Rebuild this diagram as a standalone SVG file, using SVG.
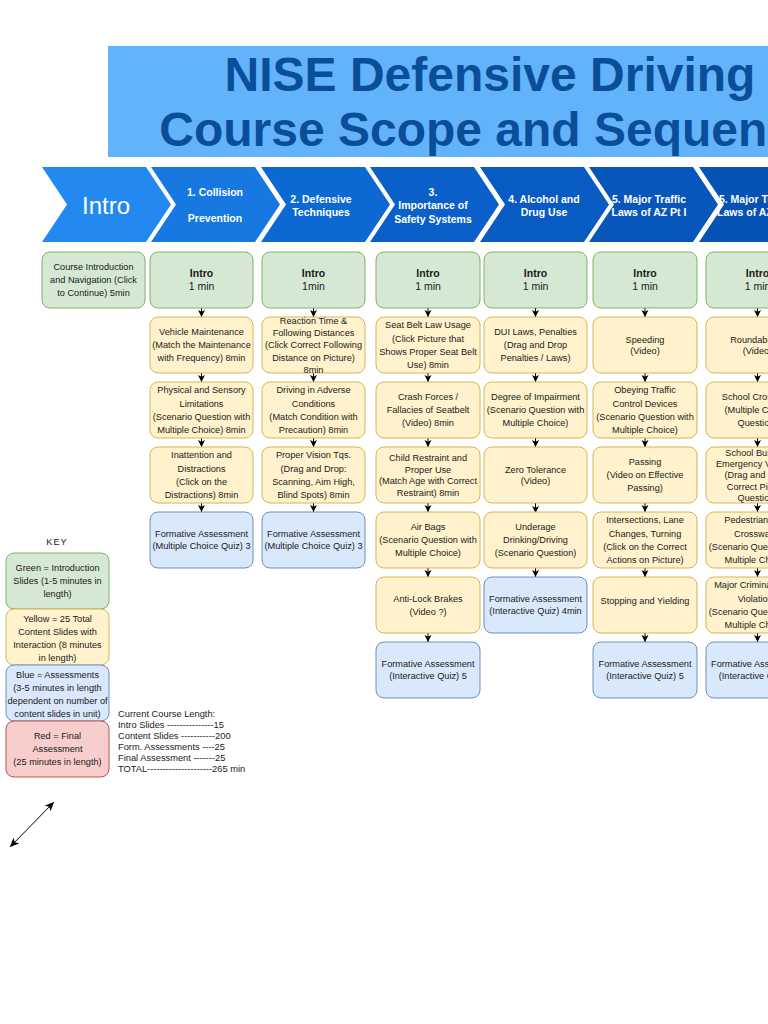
<svg xmlns="http://www.w3.org/2000/svg" width="768" height="1024" viewBox="0 0 768 1024">
<defs>
<style>
text{font-family:"Liberation Sans",Arial,Helvetica,sans-serif}
.t{font-size:9.2px;fill:#1a1a1a;text-anchor:middle}
.tb{font-weight:bold}
.i{font-size:10.5px}
.ch{font-size:10.5px;font-weight:bold;fill:#fff;text-anchor:middle}
.g{fill:#d5e8d4;stroke:#82b366;stroke-width:1}
.y{fill:#fff2cc;stroke:#d6b656;stroke-width:1}
.b{fill:#dae8fc;stroke:#6c8ebf;stroke-width:1}
.r{fill:#f8cecc;stroke:#b85450;stroke-width:1}
.c{stroke:#000;stroke-width:1;fill:none;marker-end:url(#ah)}
.cl{font-size:9.3px;fill:#1a1a1a}
</style>
<marker id="ah" markerUnits="userSpaceOnUse" markerWidth="8" markerHeight="8" refX="7" refY="3.5" orient="auto">
<path d="M0,0 L7,3.5 L0,7 L1.8,3.5 Z" fill="#000"/>
</marker>
<marker id="ah2" markerUnits="userSpaceOnUse" markerWidth="10" markerHeight="10" refX="9" refY="4" orient="auto-start-reverse">
<path d="M0,0 L9,4 L0,8 L2.2,4 Z" fill="#000"/>
</marker>
</defs>
<rect width="768" height="1024" fill="#fff"/>

<g id="title">
<rect x="108" y="46" width="680" height="111" fill="#63b3fb"/>
<text x="490" y="91" font-size="48" font-weight="bold" fill="#0a4e99" text-anchor="middle">NISE Defensive Driving</text>
<text x="490" y="146" font-size="48" font-weight="bold" fill="#0a4e99" text-anchor="middle">Course Scope and Sequence</text>
</g>

<g id="chevrons">
<g id="ch-intro"><polygon points="42,167 146,167 171,204.5 146,242 42,242 67,204.5" fill="#2389f0"/><text x="106" y="214" font-size="24" fill="#fff" text-anchor="middle">Intro</text></g>
<g id="ch-1"><polygon points="151,167 255,167 280,204.5 255,242 151,242 176,204.5" fill="#1778e2"/><text class="ch" x="215" y="196">1. Collision</text><text class="ch" x="215" y="222">Prevention</text></g>
<g id="ch-2"><polygon points="261,167 365,167 390,204.5 365,242 261,242 286,204.5" fill="#0c69d3"/><text class="ch" x="321" y="203">2. Defensive</text><text class="ch" x="321" y="216">Techniques</text></g>
<g id="ch-3"><polygon points="370,167 474,167 499,204.5 474,242 370,242 395,204.5" fill="#0a60c8"/><text class="ch" x="433" y="196">3.</text><text class="ch" x="433" y="209">Importance of</text><text class="ch" x="433" y="223">Safety Systems</text></g>
<g id="ch-4"><polygon points="480,167 584,167 609,204.5 584,242 480,242 505,204.5" fill="#085bc2"/><text class="ch" x="544" y="203">4. Alcohol and</text><text class="ch" x="544" y="216">Drug Use</text></g>
<g id="ch-5"><polygon points="589,167 693,167 718,204.5 693,242 589,242 614,204.5" fill="#0756bb"/><text class="ch" x="649" y="203">5. Major Traffic</text><text class="ch" x="649" y="216">Laws of AZ Pt I</text></g>
<g id="ch-6"><polygon points="699,167 803,167 828,204.5 803,242 699,242 724,204.5" fill="#0652b5"/><text class="ch" x="756" y="203">5. Major Traffic</text><text class="ch" x="756" y="216">Laws of AZ Pt II</text></g>
</g>

<g id="connectors">
<line class="c" x1="201.5" y1="308" x2="201.5" y2="317"/>
<line class="c" x1="201.5" y1="373" x2="201.5" y2="382"/>
<line class="c" x1="201.5" y1="438" x2="201.5" y2="447"/>
<line class="c" x1="201.5" y1="503" x2="201.5" y2="512"/>
<line class="c" x1="313.5" y1="308" x2="313.5" y2="317"/>
<line class="c" x1="313.5" y1="373" x2="313.5" y2="382"/>
<line class="c" x1="313.5" y1="438" x2="313.5" y2="447"/>
<line class="c" x1="313.5" y1="503" x2="313.5" y2="512"/>
<line class="c" x1="428" y1="308" x2="428" y2="317"/>
<line class="c" x1="428" y1="373" x2="428" y2="382"/>
<line class="c" x1="428" y1="438" x2="428" y2="447"/>
<line class="c" x1="428" y1="503" x2="428" y2="512"/>
<line class="c" x1="428" y1="568" x2="428" y2="577"/>
<line class="c" x1="428" y1="633" x2="428" y2="642"/>
<line class="c" x1="535.5" y1="308" x2="535.5" y2="317"/>
<line class="c" x1="535.5" y1="373" x2="535.5" y2="382"/>
<line class="c" x1="535.5" y1="438" x2="535.5" y2="447"/>
<line class="c" x1="535.5" y1="488" x2="535.5" y2="513"/>
<line x1="535.5" y1="512" x2="535.5" y2="522" stroke="#000" stroke-width="1"/>
<line class="c" x1="535.5" y1="568" x2="535.5" y2="577"/>
<line class="c" x1="645" y1="308" x2="645" y2="317"/>
<line class="c" x1="645" y1="373" x2="645" y2="382"/>
<line class="c" x1="645" y1="438" x2="645" y2="447"/>
<line class="c" x1="645" y1="503" x2="645" y2="512"/>
<line class="c" x1="645" y1="568" x2="645" y2="577"/>
<line class="c" x1="645" y1="633" x2="645" y2="642"/>
<line class="c" x1="757.5" y1="308" x2="757.5" y2="317"/>
<line class="c" x1="757.5" y1="373" x2="757.5" y2="382"/>
<line class="c" x1="757.5" y1="438" x2="757.5" y2="447"/>
<line class="c" x1="757.5" y1="503" x2="757.5" y2="512"/>
<line class="c" x1="757.5" y1="568" x2="757.5" y2="577"/>
<line class="c" x1="757.5" y1="633" x2="757.5" y2="642"/>
<line x1="10" y1="847" x2="54" y2="802" stroke="#000" stroke-width="1" marker-start="url(#ah2)" marker-end="url(#ah2)"/>
</g>

<g id="c0-course-intro"><rect class="g" x="42" y="252" width="103" height="56" rx="8"/><text class="t" x="93.5" y="270">Course Introduction</text><text class="t" x="93.5" y="283">and Navigation (Click</text><text class="t" x="93.5" y="296">to Continue) 5min</text></g>

<!-- column 1 -->
<g id="c1-intro"><rect class="g" x="150" y="252" width="103" height="56" rx="8"/><text class="t tb i" x="201.5" y="276.5">Intro</text><text class="t i" x="201.5" y="289.5">1 min</text></g>
<g id="c1-vm"><rect class="y" x="150" y="317" width="103" height="56" rx="8"/><text class="t" x="201.5" y="335.4">Vehicle Maintenance</text><text class="t" x="201.5" y="348.4">(Match the Maintenance</text><text class="t" x="201.5" y="361.4">with Frequency) 8min</text></g>
<g id="c1-ps"><rect class="y" x="150" y="382" width="103" height="56" rx="8"/><text class="t" x="201.5" y="393.4">Physical and Sensory</text><text class="t" x="201.5" y="406.7">Limitations</text><text class="t" x="201.5" y="420">(Scenario Question with</text><text class="t" x="201.5" y="433.3">Multiple Choice) 8min</text></g>
<g id="c1-in"><rect class="y" x="150" y="447" width="103" height="56" rx="8"/><text class="t" x="201.5" y="458.4">Inattention and</text><text class="t" x="201.5" y="471.7">Distractions</text><text class="t" x="201.5" y="485">(Click on the</text><text class="t" x="201.5" y="498.3">Distractions) 8min</text></g>
<g id="c1-fa"><rect class="b" x="150" y="512" width="103" height="56" rx="8"/><text class="t" x="201.5" y="537.4">Formative Assessment</text><text class="t" x="201.5" y="549.4">(Multiple Choice Quiz) 3</text></g>

<!-- column 2 -->
<g id="c2-intro"><rect class="g" x="262" y="252" width="103" height="56" rx="8"/><text class="t tb i" x="313.5" y="276.5">Intro</text><text class="t i" x="313.5" y="289.5">1min</text></g>
<g id="c2-rt"><rect class="y" x="262" y="317" width="103" height="56" rx="8"/><text class="t" x="313.5" y="324">Reaction Time &amp;</text><text class="t" x="313.5" y="336.2">Following Distances</text><text class="t" x="313.5" y="348.4">(Click Correct Following</text><text class="t" x="313.5" y="360.6">Distance on Picture)</text><text class="t" x="313.5" y="372.8">8min</text></g>
<g id="c2-da"><rect class="y" x="262" y="382" width="103" height="56" rx="8"/><text class="t" x="313.5" y="393.4">Driving in Adverse</text><text class="t" x="313.5" y="406.7">Conditions</text><text class="t" x="313.5" y="420">(Match Condition with</text><text class="t" x="313.5" y="433.3">Precaution) 8min</text></g>
<g id="c2-pv"><rect class="y" x="262" y="447" width="103" height="56" rx="8"/><text class="t" x="313.5" y="458.4">Proper Vision Tqs.</text><text class="t" x="313.5" y="471.7">(Drag and Drop:</text><text class="t" x="313.5" y="485">Scanning, Aim High,</text><text class="t" x="313.5" y="498.3">Blind Spots) 8min</text></g>
<g id="c2-fa"><rect class="b" x="262" y="512" width="103" height="56" rx="8"/><text class="t" x="313.5" y="537.4">Formative Assessment</text><text class="t" x="313.5" y="549.4">(Multiple Choice Quiz) 3</text></g>

<!-- column 3 -->
<g id="c3-intro"><rect class="g" x="376" y="252" width="104" height="56" rx="8"/><text class="t tb i" x="428" y="276.5">Intro</text><text class="t i" x="428" y="289.5">1 min</text></g>
<g id="c3-sb"><rect class="y" x="376" y="317" width="104" height="56" rx="8"/><text class="t" x="428" y="328.4">Seat Belt Law Usage</text><text class="t" x="428" y="341.7">(Click Picture that</text><text class="t" x="428" y="355">Shows Proper Seat Belt</text><text class="t" x="428" y="368.3">Use) 8min</text></g>
<g id="c3-cf"><rect class="y" x="376" y="382" width="104" height="56" rx="8"/><text class="t" x="428" y="400.4">Crash Forces /</text><text class="t" x="428" y="413.4">Fallacies of Seatbelt</text><text class="t" x="428" y="426.4">(Video) 8min</text></g>
<g id="c3-cr"><rect class="y" x="376" y="447" width="104" height="56" rx="8"/><text class="t" x="428" y="461.2">Child Restraint and</text><text class="t" x="428" y="472.7">Proper Use</text><text class="t" x="428" y="484.2" font-size="8.7">(Match Age with Correct</text><text class="t" x="428" y="495.7">Restraint) 8min</text></g>
<g id="c3-ab"><rect class="y" x="376" y="512" width="104" height="56" rx="8"/><text class="t" x="428" y="530.4">Air Bags</text><text class="t" x="428" y="543.4">(Scenario Question with</text><text class="t" x="428" y="556.4">Multiple Choice)</text></g>
<g id="c3-al"><rect class="y" x="376" y="577" width="104" height="56" rx="8"/><text class="t" x="428" y="602.2">Anti-Lock Brakes</text><text class="t" x="428" y="614.7">(Video ?)</text></g>
<g id="c3-fa"><rect class="b" x="376" y="642" width="104" height="56" rx="8"/><text class="t" x="428" y="667.4">Formative Assessment</text><text class="t" x="428" y="679.4">(Interactive Quiz) 5</text></g>

<!-- column 4 -->
<g id="c4-intro"><rect class="g" x="484" y="252" width="103" height="56" rx="8"/><text class="t tb i" x="535.5" y="276.5">Intro</text><text class="t i" x="535.5" y="289.5">1 min</text></g>
<g id="c4-dui"><rect class="y" x="484" y="317" width="103" height="56" rx="8"/><text class="t" x="535.5" y="335.4">DUI Laws, Penalties</text><text class="t" x="535.5" y="348.4">(Drag and Drop</text><text class="t" x="535.5" y="361.4">Penalties / Laws)</text></g>
<g id="c4-di"><rect class="y" x="484" y="382" width="103" height="56" rx="8"/><text class="t" x="535.5" y="400.4">Degree of Impairment</text><text class="t" x="535.5" y="413.4">(Scenario Question with</text><text class="t" x="535.5" y="426.4">Multiple Choice)</text></g>
<g id="c4-zt"><rect class="y" x="484" y="447" width="103" height="56" rx="8"/><text class="t" x="535.5" y="472.9">Zero Tolerance</text><text class="t" x="535.5" y="483.9">(Video)</text></g>
<g id="c4-ud"><rect class="y" x="484" y="512" width="103" height="56" rx="8"/><text class="t" x="535.5" y="530.4">Underage</text><text class="t" x="535.5" y="543.4">Drinking/Driving</text><text class="t" x="535.5" y="556.4">(Scenario Question)</text></g>
<g id="c4-fa"><rect class="b" x="484" y="577" width="103" height="56" rx="8"/><text class="t" x="535.5" y="602.4">Formative Assessment</text><text class="t" x="535.5" y="614.4">(Interactive Quiz) 4min</text></g>

<!-- column 5 -->
<g id="c5-intro"><rect class="g" x="593" y="252" width="104" height="56" rx="8"/><text class="t tb i" x="645" y="276.5">Intro</text><text class="t i" x="645" y="289.5">1 min</text></g>
<g id="c5-sp"><rect class="y" x="593" y="317" width="104" height="56" rx="8"/><text class="t" x="645" y="343">Speeding</text><text class="t" x="645" y="353.5">(Video)</text></g>
<g id="c5-ot"><rect class="y" x="593" y="382" width="104" height="56" rx="8"/><text class="t" x="645" y="393.4">Obeying Traffic</text><text class="t" x="645" y="406.7">Control Devices</text><text class="t" x="645" y="420">(Scenario Question with</text><text class="t" x="645" y="433.3">Multiple Choice)</text></g>
<g id="c5-pa"><rect class="y" x="593" y="447" width="104" height="56" rx="8"/><text class="t" x="645" y="465.4">Passing</text><text class="t" x="645" y="478.4">(Video on Effective</text><text class="t" x="645" y="491.4">Passing)</text></g>
<g id="c5-is"><rect class="y" x="593" y="512" width="104" height="56" rx="8"/><text class="t" x="645" y="523.4">Intersections, Lane</text><text class="t" x="645" y="536.7">Changes, Turning</text><text class="t" x="645" y="550">(Click on the Correct</text><text class="t" x="645" y="563.3">Actions on Picture)</text></g>
<g id="c5-sy"><rect class="y" x="593" y="577" width="104" height="56" rx="8"/><text class="t" x="645" y="604.4">Stopping and Yielding</text></g>
<g id="c5-fa"><rect class="b" x="593" y="642" width="104" height="56" rx="8"/><text class="t" x="645" y="667.4">Formative Assessment</text><text class="t" x="645" y="679.4">(Interactive Quiz) 5</text></g>

<!-- column 6 -->
<g id="c6-intro"><rect class="g" x="706" y="252" width="103" height="56" rx="8"/><text class="t tb i" x="757.5" y="276.5">Intro</text><text class="t i" x="757.5" y="289.5">1 min</text></g>
<g id="c6-rb"><rect class="y" x="706" y="317" width="103" height="56" rx="8"/><text class="t" x="757.5" y="343">Roundabouts</text><text class="t" x="757.5" y="353.5">(Video)</text></g>
<g id="c6-sc"><rect class="y" x="706" y="382" width="103" height="56" rx="8"/><text class="t" x="757.5" y="400.4">School Crossings</text><text class="t" x="757.5" y="413.4">(Multiple Choice</text><text class="t" x="757.5" y="426.4">Question)</text></g>
<g id="c6-bus"><rect class="y" x="706" y="447" width="103" height="56" rx="8"/><text class="t" x="757.5" y="455.8">School Bus and</text><text class="t" x="757.5" y="467.1">Emergency Vehicles</text><text class="t" x="757.5" y="478.4">(Drag and Drop:</text><text class="t" x="757.5" y="489.7">Correct Picture</text><text class="t" x="757.5" y="501">Question)</text></g>
<g id="c6-pd"><rect class="y" x="706" y="512" width="103" height="56" rx="8"/><text class="t" x="757.5" y="523.4">Pedestrians and</text><text class="t" x="757.5" y="536.7">Crosswalks</text><text class="t" x="757.5" y="550">(Scenario Question with</text><text class="t" x="757.5" y="563.3">Multiple Choice)</text></g>
<g id="c6-mc"><rect class="y" x="706" y="577" width="103" height="56" rx="8"/><text class="t" x="757.5" y="588.4">Major Criminal Traffic</text><text class="t" x="757.5" y="601.7">Violations</text><text class="t" x="757.5" y="615">(Scenario Question with</text><text class="t" x="757.5" y="628.3">Multiple Choice)</text></g>
<g id="c6-fa"><rect class="b" x="706" y="642" width="103" height="56" rx="8"/><text class="t" x="757.5" y="667.4">Formative Assessment</text><text class="t" x="757.5" y="679.4">(Interactive Quiz) 5</text></g>

<!-- key -->
<g id="key">
<text class="t" x="57" y="545" letter-spacing="1">KEY</text>
<g id="key-green"><rect class="g" x="6" y="553" width="103" height="56" rx="8"/><text class="t" x="57.5" y="571.4">Green = Introduction</text><text class="t" x="57.5" y="584.4">Slides (1-5 minutes in</text><text class="t" x="57.5" y="597.4">length)</text></g>
<g id="key-yellow"><rect class="y" x="6" y="609" width="103" height="56" rx="8"/><text class="t" x="57.5" y="621.9">Yellow = 25 Total</text><text class="t" x="57.5" y="634.9">Content Slides with</text><text class="t" x="57.5" y="647.9">Interaction (8 minutes</text><text class="t" x="57.5" y="660.9">in length)</text></g>
<g id="key-blue"><rect class="b" x="6" y="665" width="103" height="56" rx="8"/><text class="t" x="57.5" y="677.9">Blue = Assessments</text><text class="t" x="57.5" y="690.9">(3-5 minutes in length</text><text class="t" x="57.5" y="703.9">dependent on number of</text><text class="t" x="57.5" y="716.9">content slides in unit)</text></g>
<g id="key-red"><rect class="r" x="6" y="721" width="103" height="56" rx="8"/><text class="t" x="57.5" y="739.4">Red = Final</text><text class="t" x="57.5" y="752.4">Assessment</text><text class="t" x="57.5" y="765.4">(25 minutes in length)</text></g>
</g>

<g id="course-length">
<text class="cl" x="118" y="717.4">Current Course Length:</text>
<text class="cl" x="118" y="728.4">Intro Slides ---------------15</text>
<text class="cl" x="118" y="739.4">Content Slides -----------200</text>
<text class="cl" x="118" y="750.4">Form. Assessments ----25</text>
<text class="cl" x="118" y="761.4">Final Assessment -------25</text>
<text class="cl" x="118" y="772.4">TOTAL---------------------265 min</text>
</g>
</svg>
